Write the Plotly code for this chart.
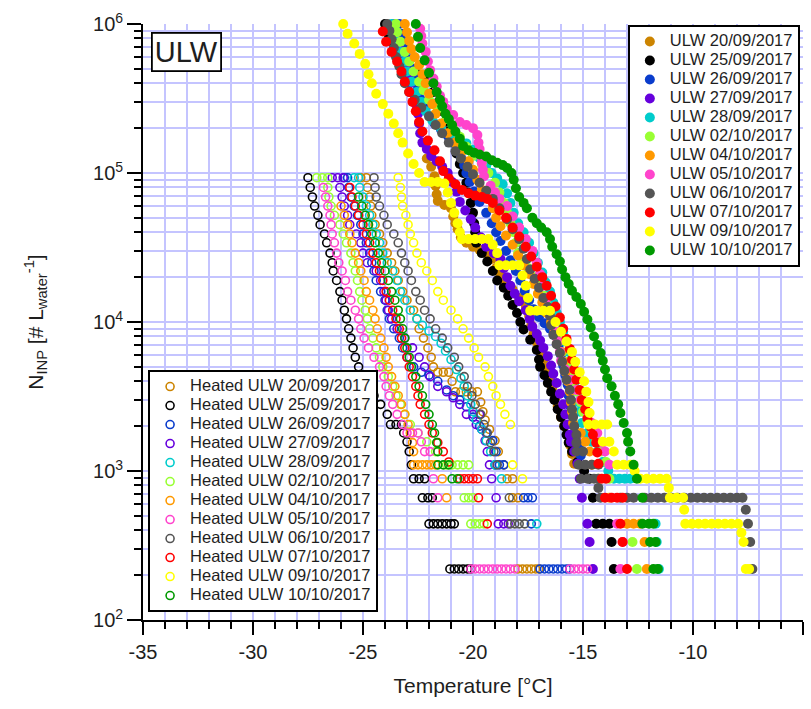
import plotly.graph_objects as go

# ---------------- data (temperature in °C, N_INP in # per L water) ----------------
DATES = ["20/09/2017", "25/09/2017", "26/09/2017", "27/09/2017", "28/09/2017", "02/10/2017",
         "04/10/2017", "05/10/2017", "06/10/2017", "07/10/2017", "09/10/2017", "10/10/2017"]
COLORS = ["#cc8400", "#000000", "#0a3ccc", "#6600dd", "#00cccc", "#99ff33",
          "#ff9900", "#ff44cc", "#555555", "#ff0000", "#ffff00", "#009900"]

U_2009 = [(-22.1,1.25e5),(-21.9,1.1e5),(-21.75,9.5e4),(-21.7,8.2e4),(-21.65,7.2e4),(-21.6,6.5e4),(-21.3,6.1e4),(-21.0,5.8e4),(-20.9,5.1e4),(-20.8,4.6e4),(-20.7,4.2e4),(-20.55,3.7e4),(-20.3,3.4e4),(-20.0,3.2e4),(-19.7,3.05e4),(-19.4,2.9e4),(-19.15,2.65e4),(-18.95,2.3e4),(-18.75,2.05e4),(-18.5,1.85e4),(-18.2,1.65e4),(-17.9,1.45e4),(-17.6,1.28e4),(-17.45,1.1e4),(-17.35,9.5e3),(-17.25,8.3e3),(-17.1,7.3e3),(-16.95,6.4e3),(-16.8,5.6e3),(-16.65,4.9e3),(-16.5,4.2e3),(-16.4,3.6e3),(-16.25,3.1e3),(-16.15,2.7e3),(-16.0,2.3e3),(-15.85,2.0e3),(-15.7,1.75e3),(-15.6,1.5e3),(-15.5,1.3e3),(-15.4,1.12e3)]
U_2509 = [(-24.0,1.0e6),(-23.85,8.6e5),(-23.6,7.4e5),(-23.3,6.3e5),(-23.0,5.4e5),(-22.5,4.6e5),(-22.1,4.1e5),(-21.8,3.5e5),(-21.55,3.0e5),(-21.4,2.6e5),(-21.25,2.2e5),(-21.1,1.9e5),(-20.9,1.6e5),(-20.75,1.35e5),(-20.6,1.15e5),(-20.45,1.0e5),(-20.3,8.6e4),(-20.2,7.4e4),(-20.1,6.3e4),(-20.0,5.4e4),(-19.95,4.6e4),(-19.9,4.0e4),(-19.85,3.4e4),(-19.6,2.9e4),(-19.35,2.55e4),(-19.1,2.2e4),(-18.9,1.9e4),(-18.6,1.7e4),(-18.4,1.5e4),(-18.2,1.3e4),(-18.0,1.15e4),(-17.85,1.0e4),(-17.7,8.9e3),(-17.4,7.6e3),(-17.1,6.5e3),(-17.0,5.6e3),(-16.95,5.0e3),(-16.75,4.4e3),(-16.6,3.9e3),(-16.45,3.4e3),(-16.3,3.0e3),(-16.15,2.6e3),(-16.0,2.3e3),(-15.85,2.0e3),(-15.75,1.75e3),(-15.65,1.55e3),(-15.5,1.35e3),(-15.25,1.15e3),(-14.95,1.0e3),(-14.7,887),(-14.55,661),(-14.4,442),(-14.1,442),(-13.8,442),(-13.7,334),(-13.6,220)]
U_2609 = [(-23.35,1.0e6),(-23.25,8.6e5),(-23.15,7.6e5),(-23.0,6.7e5),(-22.85,5.8e5),(-22.75,5.0e5),(-22.6,4.3e5),(-22.5,3.7e5),(-22.4,3.15e5),(-22.15,2.75e5),(-21.95,2.4e5),(-21.75,2.15e5),(-21.45,1.95e5),(-21.15,1.78e5),(-20.9,1.6e5),(-20.7,1.42e5),(-20.55,1.27e5),(-20.4,1.13e5),(-20.3,1.0e5),(-20.15,8.7e4),(-19.95,7.5e4),(-19.7,6.4e4),(-19.4,5.4e4),(-19.15,4.6e4),(-18.95,4.0e4),(-18.75,3.5e4),(-18.5,3.0e4),(-18.3,2.6e4),(-18.05,2.2e4),(-17.85,1.9e4),(-17.65,1.62e4),(-17.45,1.4e4),(-17.25,1.22e4),(-17.0,1.08e4),(-16.75,9.8e3),(-16.5,9.0e3),(-16.25,8.1e3),(-16.1,7.0e3),(-16.0,6.0e3),(-15.9,5.1e3),(-15.8,4.4e3),(-15.7,3.8e3),(-15.65,3.2e3),(-15.6,2.75e3),(-15.5,2.35e3),(-15.4,2.0e3),(-15.3,1.72e3),(-15.2,1.47e3),(-15.1,1.27e3)]
U_2709 = [(-23.6,1.0e6),(-23.5,8.6e5),(-23.35,7.4e5),(-23.2,6.3e5),(-23.05,5.4e5),(-22.95,4.6e5),(-22.85,4.0e5),(-22.7,3.4e5),(-22.6,2.9e5),(-22.5,2.5e5),(-22.45,2.15e5),(-22.4,1.85e5),(-22.3,1.6e5),(-22.1,1.45e5),(-21.9,1.3e5),(-21.65,1.2e5),(-21.4,1.1e5),(-21.15,1.0e5),(-20.95,8.7e4),(-20.75,7.5e4),(-20.6,6.4e4),(-20.35,5.6e4),(-20.1,4.9e4),(-19.9,4.3e4),(-19.65,3.7e4),(-19.4,3.2e4),(-19.05,2.9e4),(-18.75,2.65e4),(-18.6,2.3e4),(-18.45,2.0e4),(-18.3,1.75e4),(-18.1,1.55e4),(-17.9,1.38e4),(-17.6,1.2e4),(-17.42,1.05e4),(-17.3,9.3e3),(-17.1,8.3e3),(-16.95,7.5e3),(-16.8,6.7e3),(-16.6,5.9e3),(-16.45,5.1e3),(-16.35,4.5e3),(-16.2,3.9e3),(-16.05,3.3e3),(-15.9,2.8e3),(-15.8,2.4e3),(-15.7,2.05e3),(-15.6,1.75e3),(-15.55,1.57e3),(-15.3,1.57e3),(-15.4,1.35e3),(-15.25,1.12e3),(-15.15,887),(-15.05,661),(-14.8,442),(-14.7,334),(-14.55,220)]
U_2809 = [(-23.7,1.0e6),(-23.55,8.6e5),(-23.45,7.5e5),(-23.25,6.5e5),(-23.1,5.6e5),(-23.0,4.8e5),(-22.8,4.1e5),(-22.55,3.5e5),(-22.35,3.0e5),(-22.15,2.6e5),(-21.85,2.25e5),(-21.45,2.0e5),(-21.05,1.82e5),(-20.65,1.7e5),(-20.3,1.58e5),(-20.0,1.43e5),(-19.7,1.26e5),(-19.4,1.12e5),(-19.15,1.0e5),(-18.9,9.2e4),(-18.65,8.4e4),(-18.45,7.3e4),(-18.3,6.3e4),(-18.15,5.4e4),(-17.95,4.6e4),(-17.7,4.0e4),(-17.45,3.4e4),(-17.25,2.9e4),(-17.05,2.5e4),(-16.85,2.15e4),(-16.7,1.85e4),(-16.5,1.6e4),(-16.35,1.35e4),(-16.2,1.15e4),(-16.05,1.0e4),(-15.9,8.6e3),(-15.8,7.4e3),(-15.65,6.3e3),(-15.55,5.4e3),(-15.45,4.6e3),(-15.35,4.0e3),(-15.25,3.4e3),(-15.2,2.9e3),(-15.15,2.5e3),(-15.05,2.1e3),(-14.8,1.8e3),(-14.6,1.57e3),(-14.35,1.35e3),(-14.1,1.15e3),(-13.85,1.0e3),(-13.6,887),(-13.35,887),(-13.1,887),(-12.85,887),(-11.7,442),(-11.65,334),(-11.55,220)]
U_0210 = [(-23.5,1.0e6),(-23.45,8.8e5),(-23.3,7.6e5),(-23.1,6.5e5),(-22.9,5.6e5),(-22.7,4.8e5),(-22.45,4.1e5),(-22.25,3.6e5),(-22.0,3.1e5),(-21.6,2.7e5),(-21.2,2.3e5),(-20.9,2.0e5),(-20.6,1.75e5),(-20.3,1.5e5),(-20.0,1.3e5),(-19.6,1.15e5),(-19.3,1.0e5),(-19.0,8.6e4),(-18.8,7.4e4),(-18.6,6.3e4),(-18.45,5.4e4),(-18.3,4.6e4),(-18.15,4.0e4),(-18.05,3.4e4),(-17.95,2.9e4),(-17.75,2.6e4),(-17.5,2.3e4),(-17.2,2.0e4),(-17.0,1.75e4),(-16.8,1.5e4),(-16.65,1.3e4),(-16.5,1.15e4),(-16.4,1.0e4),(-16.25,8.6e3),(-16.1,7.4e3),(-15.95,6.3e3),(-15.7,5.4e3),(-15.5,4.6e3),(-15.4,4.0e3),(-15.25,3.4e3),(-15.1,2.9e3),(-15.0,2.5e3),(-14.8,2.15e3),(-14.55,1.85e3),(-14.4,1.6e3),(-14.15,1.35e3),(-13.95,1.15e3),(-13.8,887),(-12.75,334),(-12.55,220)]
U_0410 = [(-23.1,1.0e6),(-23.0,8.8e5),(-22.9,7.7e5),(-22.8,6.8e5),(-22.65,6.0e5),(-22.45,5.3e5),(-22.3,4.6e5),(-22.15,4.0e5),(-22.0,3.4e5),(-21.85,2.9e5),(-21.7,2.5e5),(-21.45,2.15e5),(-21.15,1.85e5),(-20.8,1.6e5),(-20.5,1.4e5),(-20.2,1.2e5),(-20.0,1.05e5),(-19.8,9.0e4),(-19.6,7.7e4),(-19.3,6.7e4),(-19.1,5.8e4),(-18.95,5.0e4),(-18.75,4.4e4),(-18.5,3.8e4),(-18.2,3.3e4),(-17.95,2.8e4),(-17.7,2.4e4),(-17.45,2.1e4),(-17.25,1.8e4),(-17.05,1.55e4),(-16.85,1.35e4),(-16.65,1.15e4),(-16.45,1.0e4),(-16.3,8.6e3),(-16.15,7.4e3),(-16.0,6.3e3),(-15.9,5.4e3),(-15.8,4.6e3),(-15.7,4.0e3),(-15.6,3.4e3),(-15.55,2.9e3),(-15.5,2.5e3),(-15.45,2.1e3),(-15.1,1.8e3),(-14.9,1.57e3),(-14.7,1.35e3),(-14.6,1.1e3),(-14.3,887),(-13.8,661),(-13.0,442),(-12.7,442),(-12.4,442),(-12.2,334),(-12.1,220)]
U_0510 = [(-22.4,9.3e5),(-22.35,8.3e5),(-22.3,7.4e5),(-22.15,6.5e5),(-22.05,5.6e5),(-21.95,4.9e5),(-21.8,4.3e5),(-21.65,3.8e5),(-21.5,3.3e5),(-21.35,3.0e5),(-21.2,2.7e5),(-20.9,2.45e5),(-20.6,2.2e5),(-20.3,2.1e5),(-20.0,2.0e5),(-19.8,1.8e5),(-19.75,1.6e5),(-19.7,1.45e5),(-19.65,1.3e5),(-19.6,1.17e5),(-19.55,1.05e5),(-19.5,9.5e4),(-19.2,8.2e4),(-19.0,7.4e4),(-18.8,6.7e4),(-18.45,6.0e4),(-18.2,5.1e4),(-17.9,4.3e4),(-17.6,3.6e4),(-17.3,3.0e4),(-17.1,2.5e4),(-16.95,2.1e4),(-16.8,1.75e4),(-16.65,1.45e4),(-16.5,1.2e4),(-16.35,1.0e4),(-16.25,8.6e3),(-16.15,7.4e3),(-16.05,6.3e3),(-16.0,5.5e3),(-15.8,4.8e3),(-15.55,4.1e3),(-15.3,3.5e3),(-15.1,3.0e3),(-14.8,2.5e3),(-14.6,2.1e3),(-14.35,1.8e3),(-14.15,1.55e3),(-14.0,1.35e3),(-13.8,1.1e3),(-13.45,442),(-13.2,334),(-13.3,220)]
U_0610 = [(-23.9,1.0e6),(-23.8,9.0e5),(-23.7,7.9e5),(-23.6,6.9e5),(-23.5,6.0e5),(-23.35,5.2e5),(-23.25,4.6e5),(-23.1,4.0e5),(-22.9,3.5e5),(-22.65,3.1e5),(-22.35,2.75e5),(-22.0,2.4e5),(-21.7,2.1e5),(-21.4,1.85e5),(-21.1,1.6e5),(-20.8,1.4e5),(-20.55,1.25e5),(-20.25,1.1e5),(-20.0,9.8e4),(-19.7,8.6e4),(-19.4,7.6e4),(-19.1,6.7e4),(-18.8,5.8e4),(-18.45,4.9e4),(-18.2,4.2e4),(-17.9,3.6e4),(-17.7,3.1e4),(-17.55,2.65e4),(-17.4,2.25e4),(-17.2,1.95e4),(-17.0,1.7e4),(-16.8,1.45e4),(-16.6,1.26e4),(-16.5,1.1e4),(-16.45,9.5e3),(-16.35,8.2e3),(-16.2,7.1e3),(-16.05,6.2e3),(-15.95,5.4e3),(-15.85,4.7e3),(-15.75,4.1e3),(-15.6,3.5e3),(-15.55,3.0e3),(-15.5,2.6e3),(-15.45,2.3e3),(-15.4,2.0e3),(-15.3,1.75e3),(-15.3,1.55e3),(-15.3,1.35e3),(-15.0,1.35e3),(-15.2,1.1e3),(-14.9,1.1e3),(-14.6,1.1e3),(-14.3,1.1e3),(-15.1,887),(-14.8,887),(-14.5,887),(-14.3,887),(-14.3,770),(-14.2,661),(-13.3,661),(-13.0,661),(-12.7,661),(-12.2,661),(-11.9,661),(-11.6,661),(-11.3,661),(-11.0,661),(-10.7,661),(-10.4,661),(-10.1,661),(-9.8,661),(-9.5,661),(-9.2,661),(-8.9,661),(-8.6,661),(-8.3,661),(-8.0,661),(-7.75,661),(-7.6,550),(-7.5,442),(-7.4,334),(-7.3,220)]
U_0710 = [(-24.1,8.9e5),(-23.95,7.6e5),(-23.7,6.5e5),(-23.45,5.6e5),(-23.25,4.8e5),(-23.1,4.1e5),(-22.9,3.5e5),(-22.75,3.0e5),(-22.6,2.6e5),(-22.45,2.2e5),(-22.3,1.9e5),(-22.05,1.65e5),(-21.75,1.42e5),(-21.5,1.2e5),(-21.35,1.03e5),(-21.1,9.2e4),(-20.8,8.4e4),(-20.5,7.7e4),(-20.2,7.3e4),(-19.9,7.05e4),(-19.6,6.9e4),(-19.35,6.7e4),(-19.1,6.3e4),(-18.8,5.6e4),(-18.5,5.0e4),(-18.2,4.3e4),(-17.9,3.75e4),(-17.6,3.2e4),(-17.35,2.75e4),(-17.1,2.35e4),(-16.85,2.0e4),(-16.65,1.75e4),(-16.45,1.5e4),(-16.25,1.27e4),(-16.05,1.07e4),(-15.9,9.0e3),(-15.75,7.7e3),(-15.6,6.6e3),(-15.5,5.6e3),(-15.4,4.8e3),(-15.3,4.1e3),(-15.15,3.5e3),(-15.05,3.0e3),(-14.9,2.6e3),(-14.8,2.25e3),(-14.65,1.98e3),(-14.55,1.75e3),(-14.4,1.55e3),(-14.35,1.33e3),(-14.3,1.12e3),(-14.15,887),(-13.95,887),(-14.0,661),(-13.7,661),(-13.45,661),(-13.2,661),(-13.3,442),(-13.2,334),(-13.0,220)]
U_0910 = [(-25.9,1.0e6),(-25.7,8.6e5),(-25.4,7.4e5),(-25.15,6.3e5),(-24.9,5.4e5),(-24.75,4.6e5),(-24.6,4.0e5),(-24.4,3.4e5),(-24.1,2.9e5),(-23.85,2.5e5),(-23.6,2.15e5),(-23.4,1.85e5),(-23.2,1.6e5),(-22.95,1.35e5),(-22.7,1.15e5),(-22.45,1.0e5),(-22.2,8.7e4),(-21.9,8.7e4),(-21.6,8.7e4),(-21.3,8.5e4),(-21.15,7.4e4),(-21.0,6.3e4),(-20.85,5.4e4),(-20.7,4.6e4),(-20.6,4.0e4),(-20.5,3.6e4),(-20.2,3.6e4),(-19.9,3.6e4),(-19.6,3.6e4),(-19.3,3.6e4),(-19.1,3.3e4),(-18.9,2.9e4),(-18.8,2.4e4),(-18.5,2.4e4),(-18.2,2.4e4),(-17.9,2.4e4),(-17.75,2.05e4),(-17.6,1.75e4),(-17.5,1.45e4),(-17.4,1.19e4),(-17.1,1.19e4),(-16.8,1.19e4),(-16.5,1.19e4),(-16.25,1.0e4),(-16.0,8.6e3),(-15.75,7.4e3),(-15.5,6.3e3),(-15.35,5.4e3),(-15.15,4.6e3),(-14.95,4.0e3),(-14.85,3.4e3),(-14.75,2.9e3),(-14.7,2.45e3),(-14.75,2.05e3),(-14.45,2.05e3),(-14.15,2.05e3),(-13.9,2.05e3),(-14.1,1.57e3),(-13.8,1.57e3),(-13.6,1.35e3),(-13.45,1.1e3),(-13.15,1.1e3),(-12.85,1.1e3),(-12.65,1.0e3),(-12.4,887),(-12.1,887),(-11.8,887),(-11.5,887),(-11.2,887),(-11.1,770),(-11.05,661),(-10.75,661),(-10.45,661),(-10.4,550),(-10.35,442),(-10.05,442),(-9.75,442),(-9.45,442),(-9.15,442),(-8.85,442),(-8.55,442),(-8.25,442),(-7.95,442),(-7.8,385),(-7.7,334),(-7.6,220),(-7.45,220)]
U_1010 = [(-22.6,1.0e6),(-22.5,8.2e5),(-22.4,6.9e5),(-22.2,5.7e5),(-22.0,4.7e5),(-21.8,4.0e5),(-21.65,3.5e5),(-21.5,3.1e5),(-21.4,2.8e5),(-21.25,2.5e5),(-21.1,2.3e5),(-20.95,2.1e5),(-20.8,1.9e5),(-20.6,1.7e5),(-20.45,1.52e5),(-20.2,1.42e5),(-19.95,1.37e5),(-19.7,1.33e5),(-19.4,1.29e5),(-19.15,1.22e5),(-18.9,1.17e5),(-18.65,1.13e5),(-18.45,1.08e5),(-18.25,1.0e5),(-18.15,9.0e4),(-18.05,7.9e4),(-17.9,6.9e4),(-17.7,6.3e4),(-17.55,5.8e4),(-17.3,5.0e4),(-17.1,4.6e4),(-16.9,4.3e4),(-16.65,4.0e4),(-16.5,3.6e4),(-16.4,3.2e4),(-16.2,2.85e4),(-16.05,2.55e4),(-15.95,2.25e4),(-15.8,2.0e4),(-15.65,1.8e4),(-15.5,1.62e4),(-15.3,1.47e4),(-15.1,1.32e4),(-14.95,1.17e4),(-14.8,1.04e4),(-14.65,9.2e3),(-14.5,8.0e3),(-14.35,7.0e3),(-14.2,6.2e3),(-14.1,5.5e3),(-14.0,4.8e3),(-13.9,4.2e3),(-13.7,3.7e3),(-13.55,3.2e3),(-13.4,2.8e3),(-13.3,2.45e3),(-13.15,2.1e3),(-13.0,1.8e3),(-12.95,1.57e3),(-12.85,1.35e3),(-12.7,1.1e3),(-12.55,887),(-12.3,661),(-12.3,442),(-12.0,442),(-11.8,442),(-11.95,334),(-11.7,334),(-11.8,220),(-11.6,220)]

H_2009 = [(-25.1,9.3e4),(-24.85,9.3e4),(-24.8,8.0e4),(-24.7,6.9e4),(-24.65,6.0e4),(-24.6,5.2e4),(-24.45,4.5e4),(-24.25,3.9e4),(-24.1,3.4e4),(-23.9,2.9e4),(-23.7,2.5e4),(-23.55,2.2e4),(-23.4,1.9e4),(-23.2,1.6e4),(-23.0,1.4e4),(-22.7,1.2e4),(-22.55,1.05e4),(-22.45,9.0e3),(-22.25,7.8e3),(-22.05,6.7e3),(-21.9,5.8e3),(-21.8,5.0e3),(-21.6,4.6e3),(-21.35,4.6e3),(-21.1,4.6e3),(-20.95,4.0e3),(-20.8,3.4e3),(-20.55,3.4e3),(-20.3,3.4e3),(-20.05,3.4e3),(-19.8,3.4e3),(-19.65,2.9e3),(-19.55,2.5e3),(-19.45,2.2e3),(-19.25,1.9e3),(-19.0,1.6e3),(-18.85,1.35e3),(-18.6,1.1e3),(-18.45,887),(-18.2,887),(-18.2,661),(-17.95,661),(-17.95,220),(-17.75,220),(-17.55,220),(-17.35,220),(-17.15,220),(-17.0,220)]
H_2509 = [(-27.5,9.3e4),(-27.4,8.0e4),(-27.3,6.9e4),(-27.2,6.0e4),(-27.05,5.2e4),(-26.95,4.5e4),(-26.75,3.9e4),(-26.65,3.4e4),(-26.5,2.9e4),(-26.4,2.5e4),(-26.35,2.2e4),(-26.2,1.9e4),(-26.05,1.6e4),(-25.95,1.4e4),(-25.85,1.2e4),(-25.75,1.05e4),(-25.65,9.0e3),(-25.55,7.8e3),(-25.45,6.7e3),(-25.35,5.8e3),(-25.2,5.0e3),(-25.05,4.3e3),(-24.8,3.7e3),(-24.5,3.2e3),(-24.2,2.8e3),(-23.9,2.4e3),(-23.75,2.05e3),(-23.5,2.05e3),(-23.25,2.05e3),(-23.15,1.8e3),(-23.0,1.57e3),(-22.9,1.35e3),(-22.8,1.1e3),(-22.7,887),(-22.45,887),(-22.2,887),(-22.3,661),(-22.05,661),(-21.85,661),(-22.0,442),(-21.8,442),(-21.6,442),(-21.4,442),(-21.2,442),(-21.0,442),(-20.85,442),(-21.05,220),(-20.85,220),(-20.65,220),(-20.45,220),(-20.25,220),(-20.1,220)]
H_2609 = [(-25.85,9.3e4),(-25.7,9.3e4),(-25.65,8.0e4),(-25.55,6.9e4),(-25.4,6.0e4),(-25.25,5.2e4),(-25.1,4.5e4),(-25.0,3.9e4),(-24.85,3.4e4),(-24.7,2.9e4),(-24.6,2.5e4),(-24.5,2.2e4),(-24.4,1.9e4),(-24.2,1.6e4),(-24.0,1.4e4),(-23.9,1.2e4),(-23.8,1.05e4),(-23.6,9.0e3),(-23.35,7.8e3),(-23.2,6.7e3),(-23.0,5.8e3),(-22.7,5.0e3),(-22.35,4.6e3),(-22.0,4.4e3),(-21.6,4.0e3),(-21.2,3.5e3),(-20.9,3.2e3),(-20.6,3.0e3),(-20.3,2.7e3),(-20.0,2.3e3),(-19.7,2.0e3),(-19.4,1.8e3),(-19.1,1.6e3),(-18.95,1.35e3),(-19.0,1.1e3),(-18.8,1.1e3),(-18.6,1.1e3),(-17.7,661),(-17.5,661),(-17.3,661),(-17.35,442),(-16.95,220),(-16.75,220),(-16.55,220),(-16.35,220),(-16.15,220),(-15.95,220),(-15.75,220),(-15.6,220)]
H_2709 = [(-26.4,9.3e4),(-26.15,9.3e4),(-25.9,9.3e4),(-26.05,8.0e4),(-25.95,6.9e4),(-25.85,6.0e4),(-25.7,5.2e4),(-25.6,4.5e4),(-25.3,3.9e4),(-25.1,3.4e4),(-25.0,2.9e4),(-24.8,2.5e4),(-24.4,2.2e4),(-24.2,1.9e4),(-24.05,1.6e4),(-23.95,1.4e4),(-23.85,1.2e4),(-23.7,1.05e4),(-23.45,9.0e3),(-23.1,7.8e3),(-22.75,6.7e3),(-22.45,5.8e3),(-22.2,5.0e3),(-21.95,4.3e3),(-21.6,3.7e3),(-21.2,3.4e3),(-20.9,3.1e3),(-20.6,2.8e3),(-20.3,2.4e3),(-20.0,2.4e3),(-19.7,2.4e3),(-19.85,2.05e3),(-19.6,1.9e3),(-19.45,1.6e3),(-19.35,1.35e3),(-19.25,1.1e3),(-19.15,887),(-18.95,661),(-18.85,442),(-18.6,442),(-18.4,442)]
H_2809 = [(-25.4,9.3e4),(-25.2,9.3e4),(-25.15,8.0e4),(-25.0,6.9e4),(-24.85,6.0e4),(-24.7,5.2e4),(-24.55,4.5e4),(-24.4,3.9e4),(-24.25,3.4e4),(-24.1,2.9e4),(-23.9,2.5e4),(-23.65,2.2e4),(-23.45,1.9e4),(-23.3,1.6e4),(-23.1,1.4e4),(-22.85,1.2e4),(-22.55,1.05e4),(-22.3,9.5e3),(-22.0,8.7e3),(-21.7,8.0e3),(-21.45,7.2e3),(-21.25,6.4e3),(-21.0,5.6e3),(-20.75,4.8e3),(-20.55,4.2e3),(-20.4,3.7e3),(-20.25,3.2e3),(-20.1,2.8e3),(-20.0,2.5e3),(-19.85,2.2e3),(-19.6,1.9e3),(-19.4,1.6e3),(-19.2,1.35e3),(-19.0,1.1e3),(-18.7,887),(-17.1,442)]
H_0210 = [(-27.1,9.3e4),(-26.85,9.3e4),(-26.6,9.3e4),(-26.6,8.0e4),(-26.55,6.9e4),(-26.45,6.0e4),(-26.3,5.2e4),(-26.05,4.5e4),(-25.9,3.9e4),(-25.75,3.4e4),(-25.55,2.9e4),(-25.45,2.5e4),(-25.35,2.2e4),(-25.25,1.9e4),(-25.15,1.6e4),(-25.05,1.4e4),(-24.9,1.2e4),(-24.8,1.05e4),(-24.7,9.0e3),(-24.55,7.8e3),(-24.4,6.7e3),(-24.25,5.8e3),(-24.1,5.0e3),(-23.85,4.3e3),(-23.65,3.7e3),(-23.5,3.2e3),(-23.3,2.8e3),(-23.1,2.4e3),(-22.85,2.05e3),(-22.5,1.8e3),(-22.1,1.57e3),(-21.7,1.35e3),(-21.2,1.1e3),(-20.95,1.1e3),(-20.7,1.1e3),(-20.45,1.1e3),(-20.2,1.1e3),(-20.4,661),(-20.2,661),(-20.0,661),(-20.1,442),(-19.9,442),(-19.7,442),(-19.5,442)]
H_0410 = [(-26.0,6.0e4),(-25.85,5.2e4),(-25.7,4.5e4),(-25.6,3.9e4),(-25.5,3.4e4),(-25.35,2.9e4),(-25.2,2.5e4),(-25.1,2.2e4),(-24.95,1.9e4),(-24.85,1.6e4),(-24.7,1.4e4),(-24.55,1.2e4),(-24.45,1.05e4),(-24.35,9.0e3),(-24.2,7.8e3),(-24.05,6.7e3),(-23.95,5.8e3),(-23.85,5.0e3),(-23.7,4.3e3),(-23.55,3.7e3),(-23.4,3.2e3),(-23.25,2.8e3),(-23.1,2.4e3),(-22.95,2.05e3),(-22.85,1.8e3),(-22.75,1.55e3),(-22.7,1.35e3),(-22.7,1.1e3),(-22.5,1.1e3),(-22.3,1.1e3),(-22.1,1.1e3),(-21.9,1.1e3),(-21.7,1.1e3),(-21.4,887),(-21.2,661)]
H_0510 = [(-26.8,8.0e4),(-26.7,6.9e4),(-26.6,6.0e4),(-26.5,5.2e4),(-26.45,4.5e4),(-26.4,3.9e4),(-26.3,3.4e4),(-26.2,2.9e4),(-26.1,2.5e4),(-25.95,2.2e4),(-25.8,1.9e4),(-25.7,1.6e4),(-25.55,1.4e4),(-25.35,1.2e4),(-25.2,1.05e4),(-25.1,9.0e3),(-24.95,7.8e3),(-24.75,6.7e3),(-24.5,5.8e3),(-24.25,5.0e3),(-24.05,4.3e3),(-23.95,3.7e3),(-23.8,3.2e3),(-23.65,2.8e3),(-23.45,2.4e3),(-23.2,2.05e3),(-23.0,1.8e3),(-22.75,1.8e3),(-22.5,1.8e3),(-22.35,1.57e3),(-22.2,1.35e3),(-21.95,1.35e3),(-21.8,887),(-21.6,661),(-20.1,220),(-19.9,220),(-19.7,220),(-19.5,220),(-19.3,220),(-19.1,220),(-18.9,220),(-18.7,220),(-18.5,220),(-18.3,220),(-18.1,220),(-15.6,220),(-15.4,220),(-15.2,220),(-15.0,220),(-14.8,220)]
H_0610 = [(-24.5,9.3e4),(-24.45,8.0e4),(-24.4,6.9e4),(-24.25,6.0e4),(-24.05,5.2e4),(-23.9,4.5e4),(-23.6,3.9e4),(-23.4,3.4e4),(-23.25,2.9e4),(-23.1,2.5e4),(-22.95,2.2e4),(-22.8,1.9e4),(-22.6,1.6e4),(-22.4,1.4e4),(-22.2,1.2e4),(-21.95,1.05e4),(-21.7,9.0e3),(-21.4,7.8e3),(-21.15,6.7e3),(-20.85,5.8e3),(-20.65,5.0e3),(-20.4,4.3e3),(-20.25,3.7e3),(-20.05,3.2e3),(-19.9,2.8e3),(-19.65,2.4e3),(-19.5,2.05e3),(-19.35,1.8e3),(-19.2,1.55e3),(-19.05,1.35e3),(-18.9,1.1e3),(-18.35,661),(-18.3,442),(-18.1,442),(-17.9,442),(-17.65,442)]
H_0710 = [(-25.6,8.0e4),(-25.5,6.9e4),(-25.35,6.0e4),(-25.2,5.2e4),(-25.0,4.5e4),(-24.85,3.9e4),(-24.7,3.4e4),(-24.55,2.9e4),(-24.4,2.5e4),(-24.25,2.2e4),(-24.1,1.9e4),(-23.95,1.6e4),(-23.8,1.4e4),(-23.65,1.2e4),(-23.5,1.05e4),(-23.35,9.0e3),(-23.25,7.8e3),(-23.1,6.7e3),(-23.0,5.8e3),(-22.9,5.0e3),(-22.75,4.3e3),(-22.6,3.7e3),(-22.5,3.2e3),(-22.4,2.8e3),(-22.2,2.4e3),(-22.0,2.05e3),(-21.85,1.8e3),(-21.6,1.55e3),(-21.35,1.35e3),(-21.1,1.15e3),(-20.6,887),(-20.4,887),(-20.2,887),(-20.0,887),(-19.8,887),(-19.75,661),(-19.35,442)]
H_0910 = [(-23.4,9.3e4),(-23.3,8.0e4),(-23.25,6.9e4),(-23.2,6.0e4),(-23.05,5.2e4),(-22.95,4.5e4),(-22.85,3.9e4),(-22.7,3.4e4),(-22.55,2.9e4),(-22.35,2.5e4),(-22.1,2.2e4),(-21.85,1.9e4),(-21.6,1.6e4),(-21.35,1.4e4),(-21.0,1.2e4),(-20.7,1.05e4),(-20.45,9.0e3),(-20.2,7.8e3),(-19.95,6.7e3),(-19.75,5.8e3),(-19.45,5.0e3),(-19.3,4.3e3),(-19.1,3.7e3),(-18.95,3.2e3),(-18.75,2.8e3),(-18.55,2.4e3),(-18.3,2.05e3),(-18.2,1.1e3),(-17.75,887)]
H_1010 = [(-25.2,6.9e4),(-25.05,6.0e4),(-24.9,5.2e4),(-24.75,4.5e4),(-24.6,3.9e4),(-24.45,3.4e4),(-24.3,2.9e4),(-24.15,2.5e4),(-24.0,2.2e4),(-23.85,1.9e4),(-23.7,1.6e4),(-23.55,1.4e4),(-23.4,1.2e4),(-23.3,1.05e4),(-23.2,9.0e3),(-23.1,7.8e3),(-23.0,6.7e3),(-22.9,5.8e3),(-22.8,5.0e3),(-22.6,4.3e3),(-22.45,3.7e3),(-22.3,3.2e3),(-22.15,2.8e3),(-22.0,2.4e3),(-21.85,2.05e3),(-21.75,1.8e3),(-21.65,1.55e3),(-21.6,1.35e3),(-21.6,1.1e3),(-21.35,1.1e3),(-21.1,1.1e3),(-20.95,887),(-20.7,887)]

UNHEATED = [U_2009, U_2509, U_2609, U_2709, U_2809, U_0210, U_0410, U_0510, U_0610, U_0710, U_0910, U_1010]
HEATED = [H_2009, H_2509, H_2609, H_2709, H_2809, H_0210, H_0410, H_0510, H_0610, H_0710, H_0910, H_1010]

X_TICKS = [-35, -30, -25, -20, -15, -10, -5]
X_TICKTEXT = ["-35", "-30", "-25", "-20", "-15", "-10", "-5"]
Y_TICKS = [1e2, 1e3, 1e4, 1e5, 1e6]
Y_TICKTEXT = ["10<sup>2</sup>", "10<sup>3</sup>", "10<sup>4</sup>", "10<sup>5</sup>", "10<sup>6</sup>"]

# ---------------- figure ----------------
GRID = "#c4c4ff"
TXT = "#1e1e1e"
FONT = "Liberation Sans"
LEG_SPAN = '<span style="font-size:16.5px">{}</span>'

fig = go.Figure()

for d, c, pts in zip(DATES, COLORS, UNHEATED):
    fig.add_trace(go.Scatter(
        x=[p[0] for p in pts], y=[p[1] for p in pts], mode="markers",
        name=LEG_SPAN.format("ULW " + d), legend="legend", cliponaxis=False,
        marker=dict(color=c, size=10, line=dict(width=0))))

for d, c, pts in zip(DATES, COLORS, HEATED):
    fig.add_trace(go.Scatter(
        x=[p[0] for p in pts], y=[p[1] for p in pts], mode="markers",
        name=LEG_SPAN.format("Heated ULW " + d), legend="legend2", cliponaxis=False,
        marker=dict(color=c, size=8, symbol="circle-open", line=dict(width=1.6, color=c))))

minor_y = [m * 10 ** e for e in range(2, 6) for m in range(2, 10)]

fig.update_layout(
    width=811, height=709,
    margin=dict(l=143, r=8, t=24, b=89),
    paper_bgcolor="white", plot_bgcolor="white",
    font=dict(family=FONT, color=TXT),
    xaxis=dict(
        range=[-35, -5], tickmode="array", tickvals=X_TICKS, ticktext=X_TICKTEXT,
        ticks="outside", ticklen=13, tickwidth=1.5, tickcolor="black",
        showline=True, linecolor="black", linewidth=1.8,
        showgrid=True, gridcolor=GRID, gridwidth=1.9, zeroline=False,
        tickfont=dict(family=FONT, size=20, color=TXT),
        title=dict(text="Temperature [°C]", font=dict(family=FONT, size=21, color=TXT), standoff=16),
        minor=dict(tick0=-35, dtick=1, ticks="outside", ticklen=7, tickwidth=1.5, tickcolor="black",
                   showgrid=True, gridcolor=GRID, gridwidth=1.9),
    ),
    yaxis=dict(
        type="log", range=[2, 6],
        tickmode="array", tickvals=Y_TICKS, ticktext=Y_TICKTEXT,
        ticks="outside", ticklen=14, tickwidth=1.5, tickcolor="black",
        showline=True, linecolor="black", linewidth=1.8,
        showgrid=True, gridcolor=GRID, gridwidth=1.9, zeroline=False,
        tickfont=dict(family=FONT, size=20, color=TXT),
        title=dict(text="N<sub>INP</sub> [# L<sub>water</sub><sup>-1</sup>]",
                   font=dict(family=FONT, size=21, color=TXT), standoff=44),
        minor=dict(tickmode="array", tickvals=minor_y, ticks="outside", ticklen=7, tickwidth=1.5,
                   tickcolor="black", showgrid=True, gridcolor=GRID, gridwidth=1.9),
    ),
    legend=dict(
        x=0.9955, y=0.998, xanchor="right", yanchor="top",
        bgcolor="white", bordercolor="black", borderwidth=1.8,
        font=dict(family=FONT, size=12, color=TXT),
        itemclick=False, itemdoubleclick=False,
    ),
    legend2=dict(
        x=0.008, y=0.013, xanchor="left", yanchor="bottom",
        bgcolor="white", bordercolor="black", borderwidth=1.8,
        font=dict(family=FONT, size=12, color=TXT),
        itemclick=False, itemdoubleclick=False,
    ),
    annotations=[dict(
        text="ULW", xref="paper", yref="paper", x=0.012, y=0.987,
        xanchor="left", yanchor="top", showarrow=False,
        font=dict(family=FONT, size=29, color=TXT),
        bgcolor="white", bordercolor="black", borderwidth=1.8, borderpad=2,
    )],
)

fig.write_html("out.html")
